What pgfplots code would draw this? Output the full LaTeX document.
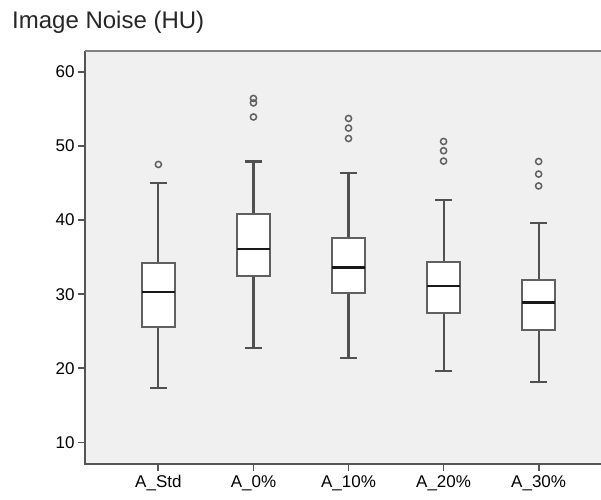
\documentclass[border=0pt]{standalone}
\usepackage{pgfplots}
\pgfplotsset{compat=1.18}
\usepackage{fontspec}
\setmainfont{Liberation Sans}
\definecolor{bg}{HTML}{F0F0F0}
\definecolor{axl}{HTML}{555555}
\definecolor{boxl}{HTML}{606060}
\definecolor{wl}{HTML}{505050}
\begin{document}
\begin{tikzpicture}
\useasboundingbox (0bp,0bp) rectangle (601bp,500bp);
\node[anchor=west,inner sep=0pt] at (12bp,478bp) {\fontsize{24bp}{28bp}\selectfont\color{black!85} Image Noise (HU)};
\begin{axis}[
  at={(85bp,36bp)}, anchor=south west,
  scale only axis, width=516bp, height=413bp,
  xmin=0.228, xmax=5.656, ymin=7.1, ymax=62.8,
  axis background/.style={fill=bg},
  axis line style={draw=none},
  xtick={1,2,3,4,5},
  xticklabels={A\_Std, A\_0\%, A\_10\%, A\_20\%, A\_30\%},
  ytick={10,20,30,40,50,60},
  tick align=outside, tick pos=left,
  major tick length=7bp,
  tick style={axl, line width=1.8pt},
  ticklabel style={font=\fontsize{17bp}{20bp}\selectfont, text=black},
  /pgf/number format/assume math mode=true,
  xticklabel style={yshift=-1bp},
  unbounded coords=jump,
  clip=false,
]
% whiskers and caps (position, value); nan separates segments
\addplot[wl, line width=2.1pt, mark=none] coordinates {
  (1,17.3) (1,25.55) (nan,nan) (0.9125,17.3) (1.0875,17.3) (nan,nan)
  (1,34.25) (1,44.95) (nan,nan) (0.9125,44.95) (1.0875,44.95) (nan,nan)
  (2,22.7) (2,32.5) (nan,nan) (1.9125,22.7) (2.0875,22.7) (nan,nan)
  (2,40.8) (2,47.9) (nan,nan) (1.9125,47.9) (2.0875,47.9) (nan,nan)
  (3,21.45) (3,30.1) (nan,nan) (2.9125,21.45) (3.0875,21.45) (nan,nan)
  (3,37.6) (3,46.3) (nan,nan) (2.9125,46.3) (3.0875,46.3) (nan,nan)
  (4,19.7) (4,27.5) (nan,nan) (3.9125,19.7) (4.0875,19.7) (nan,nan)
  (4,34.4) (4,42.7) (nan,nan) (3.9125,42.7) (4.0875,42.7) (nan,nan)
  (5,18.1) (5,25.2) (nan,nan) (4.9125,18.1) (5.0875,18.1) (nan,nan)
  (5,31.9) (5,39.6) (nan,nan) (4.9125,39.6) (5.0875,39.6)
};
% boxes (lower quartile to upper quartile)
\addplot[draw=boxl, fill=white, line width=2pt, mark=none] coordinates {(0.83,25.55) (1.17,25.55) (1.17,34.25) (0.83,34.25)} -- cycle;
\addplot[draw=boxl, fill=white, line width=2pt, mark=none] coordinates {(1.83,32.5) (2.17,32.5) (2.17,40.8) (1.83,40.8)} -- cycle;
\addplot[draw=boxl, fill=white, line width=2pt, mark=none] coordinates {(2.83,30.1) (3.17,30.1) (3.17,37.6) (2.83,37.6)} -- cycle;
\addplot[draw=boxl, fill=white, line width=2pt, mark=none] coordinates {(3.83,27.5) (4.17,27.5) (4.17,34.4) (3.83,34.4)} -- cycle;
\addplot[draw=boxl, fill=white, line width=2pt, mark=none] coordinates {(4.83,25.2) (5.17,25.2) (5.17,31.9) (4.83,31.9)} -- cycle;
% medians
\addplot[black!90, line width=2.8pt, mark=none] coordinates {
  (0.83,30.3) (1.17,30.3) (nan,nan)
  (1.83,36.1) (2.17,36.1) (nan,nan)
  (2.83,33.6) (3.17,33.6) (nan,nan)
  (3.83,31.1) (4.17,31.1) (nan,nan)
  (4.83,28.9) (5.17,28.9)
};
% outliers
\addplot[only marks, mark=o, mark size=3.1pt, mark options={draw=boxl, line width=1.5pt}] coordinates {
  (1,47.5)
  (2,56.4) (2,55.8) (2,53.9)
  (3,53.7) (3,52.4) (3,51.0)
  (4,50.6) (4,49.35) (4,47.95)
  (5,47.9) (5,46.2) (5,44.6)
};
\draw[axl, line width=1.8pt] (rel axis cs:0,1) -- (rel axis cs:0,0) -- (rel axis cs:1,0);
\draw[axl!75, line width=1.8pt] (rel axis cs:0,1) -- (rel axis cs:1,1);
\end{axis}
\end{tikzpicture}
\end{document}
